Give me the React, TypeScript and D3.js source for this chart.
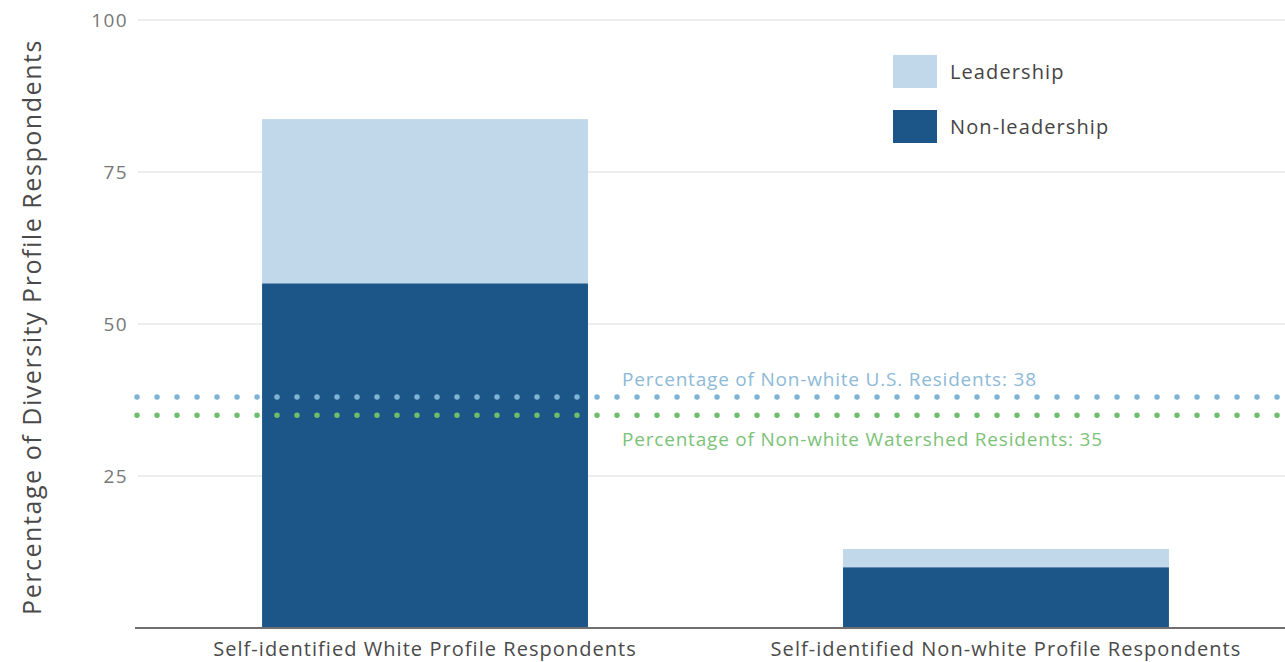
import React from "react";
import * as d3 from "d3";

const categories = ["Self-identified White Profile Respondents", "Self-identified Non-white Profile Respondents"];
const nonLeadership = [56.7, 10];
const leadership = [27, 3];
const yTicks = [25, 50, 75, 100];
const refLines = [
  { value: 38, label: "Percentage of Non-white U.S. Residents: 38", color: "#7fb3d5", textColor: "#8dbad8" },
  { value: 35, label: "Percentage of Non-white Watershed Residents: 35", color: "#6dbd6a", textColor: "#7cc278" },
];
const legendItems = [
  { label: "Leadership", color: "#c1d8ea" },
  { label: "Non-leadership", color: "#1c5689" },
];

const W = 1285;
const H = 662;
const FONT = "'Open Sans', 'Noto Sans', sans-serif";

export default function App() {
  const y = d3.scaleLinear().domain([0, 100]).range([628, 20]);
  const x = d3
    .scaleBand<string>()
    .domain(categories)
    .range([136, 1295])
    .paddingInner(0.439)
    .paddingOuter(0.217);

  const stacked = categories.map((c, i) => ({
    cat: c,
    segs: [
      { y0: 0, y1: nonLeadership[i], color: legendItems[1].color },
      { y0: nonLeadership[i], y1: nonLeadership[i] + leadership[i], color: legendItems[0].color },
    ],
  }));

  return (
    <svg
      width={W}
      height={H}
      style={{ position: "absolute", left: 0, top: 0, background: "#fff" }}
      fontFamily={FONT}
    >
      {yTicks.map((t) => (
        <g key={t}>
          <line x1={138} x2={W} y1={y(t)} y2={y(t)} stroke="#dcdcdc" strokeWidth={1.2} />
          <text x={128} y={y(t)} dy="0.35em" textAnchor="end" fontSize={19} letterSpacing={1.4} fill="#777">
            {t}
          </text>
        </g>
      ))}
      {stacked.map((s) =>
        s.segs.map((seg, j) => (
          <rect
            key={s.cat + j}
            x={x(s.cat)}
            width={x.bandwidth()}
            y={y(seg.y1)}
            height={y(seg.y0) - y(seg.y1)}
            fill={seg.color}
          />
        ))
      )}
      <line x1={135} x2={W} y1={y(0)} y2={y(0)} stroke="#707070" strokeWidth={2} />
      {categories.map((c) => (
        <text
          key={c}
          x={(x(c) as number) + x.bandwidth() / 2}
          y={649}
          dy="0.35em"
          textAnchor="middle"
          fontSize={20}
          letterSpacing={1.05}
          fill="#4a4a4a"
        >
          {c}
        </text>
      ))}
      {refLines.map((r, i) => (
        <g key={r.label}>
          <line
            x1={137}
            x2={W + 10}
            y1={y(r.value)}
            y2={y(r.value)}
            stroke={r.color}
            strokeWidth={5.5}
            strokeLinecap="round"
            strokeDasharray="0 20"
          />
          <text
            x={622}
            y={i === 0 ? y(r.value) - 18 : y(r.value) + 24}
            dy="0.35em"
            fontSize={19}
            letterSpacing={0.8}
            fill={r.textColor}
          >
            {r.label}
          </text>
        </g>
      ))}
      {legendItems.map((l, i) => (
        <g key={l.label} transform={`translate(893, ${55 + i * 55})`}>
          <rect width={44} height={33} fill={l.color} />
          <text x={57} y={17} dy="0.35em" fontSize={20} letterSpacing={1.1} fill="#444">
            {l.label}
          </text>
        </g>
      ))}
      <text
        transform={`translate(32, ${(y(0) + y(100)) / 2 + 3}) rotate(-90)`}
        textAnchor="middle"
        dy="0.35em"
        fontSize={25}
        letterSpacing={1.55}
        fill="#4a4a4a"
      >
        Percentage of Diversity Profile Respondents
      </text>
    </svg>
  );
}
